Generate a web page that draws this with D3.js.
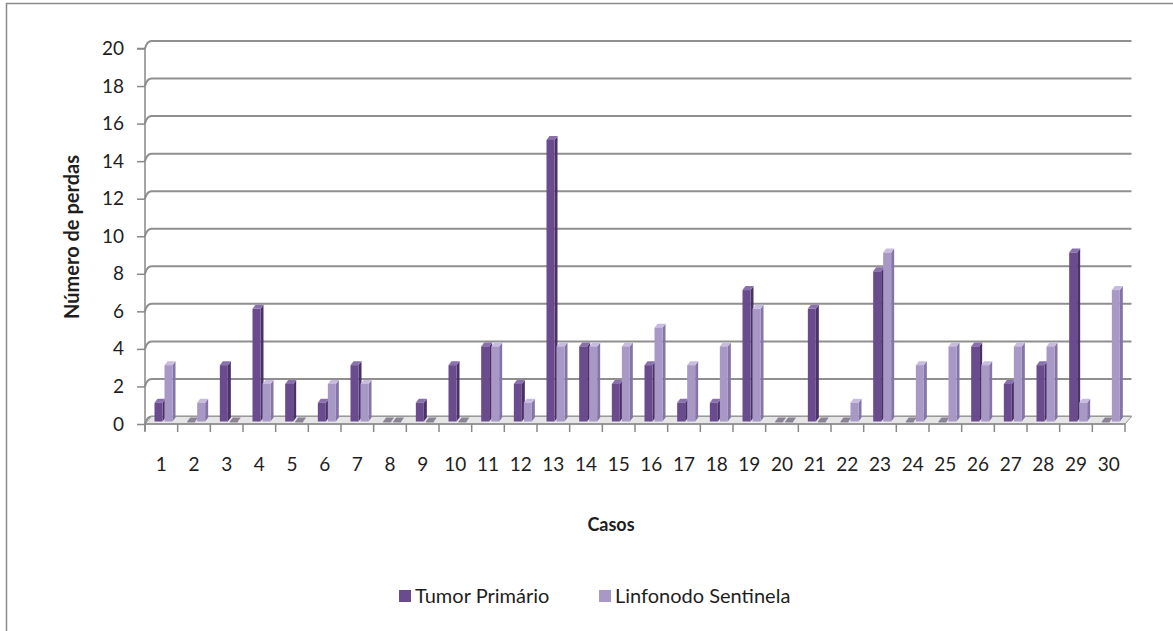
<!DOCTYPE html>
<html>
<head>
<meta charset="utf-8">
<script src="https://cdn.jsdelivr.net/npm/d3@7"></script>
<style>
  body { margin: 0; background: #fff; }
  svg text { font-family: Lato, "Open Sans", "DejaVu Sans", sans-serif; fill: #1e1e1e; }
</style>
</head>
<body>
<div id="chart"></div>
<script>
var svgWidth = 1173;
var svgHeight = 631;

// data
var casos = d3.range(1, 31).map(String);
var tumorPrimario = [1, 0, 3, 6, 2, 1, 3, 0, 1, 3, 4, 2, 15, 4, 2, 3, 1, 1, 7, 0, 6, 0, 8, 0, 0, 4, 2, 3, 9, 0];
var linfonodo = [3, 1, 0, 2, 0, 2, 2, 0, 0, 0, 4, 1, 4, 4, 4, 5, 3, 4, 6, 0, 0, 1, 9, 3, 4, 3, 4, 4, 1, 7];
var seriesNames = ["Tumor Primário", "Linfonodo Sentinela"];
var yTicks = [0, 2, 4, 6, 8, 10, 12, 14, 16, 18, 20];

// 3D look: back wall offset and colours per series
var depthX = 6.5, depthY = -7.5;
var colors = [
  { front: "#6a4c8e", side: "#4a3269", top: "#8a70ad" },
  { front: "#a898c6", side: "#8574a6", top: "#c8bde0" }
];

var svg = d3.select("#chart")
  .append("svg")
  .attr("width", svgWidth)
  .attr("height", svgHeight);

// chart border (cropped on right/bottom in the original)
svg.append("rect")
  .attr("x", 6.5).attr("y", 3.5)
  .attr("width", 1300).attr("height", 800)
  .attr("fill", "none")
  .attr("stroke", "#8a8a8a")
  .attr("stroke-width", 1.5);

// scales
var x0 = d3.scaleBand().domain(casos).range([145, 1125]).padding(0);
var x1 = d3.scaleBand().domain([0, 1]).range([8, 28]).padding(0);
var y = d3.scaleLinear().domain([0, 20]).range([424, 48.5]);

// back wall gridlines
var grid = svg.append("g");
yTicks.forEach(function(t) {
  var yy = y(t);
  grid.append("path")
    .attr("d", `M145,${yy} Q147,${yy + depthY} ${145 + depthX},${yy + depthY} L${1125 + depthX},${yy + depthY}`)
    .attr("fill", "none")
    .attr("stroke", "#8f8f8f")
    .attr("stroke-width", 2);
});

// floor
svg.append("path")
  .attr("d", `M145,424 L${145 + depthX},${424 + depthY} L${1125 + depthX},${424 + depthY} L1125,424 Z`)
  .attr("fill", "#e6e6e6")
  .attr("stroke", "#999")
  .attr("stroke-width", 1);

// bars
var faceW = 8, barDx = 3, barDy = -4, offX = 1.5, offY = -2.5;
var bars = svg.append("g");
[tumorPrimario, linfonodo].forEach(function(vals, s) {
  var c = colors[s];
  var g = bars.append("g");
  var data = casos.map(function(k, i) { return { k: k, v: vals[i] }; });
  var xl = d => x0(d.k) + x1(s) + offX;
  var yb = y(0) + offY;
  var yt = d => y(d.v) + offY;

  // side
  g.selectAll(".side").data(data).enter().append("path")
    .attr("d", d => `M${xl(d) + faceW},${yb} L${xl(d) + faceW + barDx},${yb + barDy} L${xl(d) + faceW + barDx},${yt(d) + barDy} L${xl(d) + faceW},${yt(d)} Z`)
    .attr("fill", c.side);
  // top
  g.selectAll(".top").data(data).enter().append("path")
    .attr("d", d => `M${xl(d)},${yt(d)} L${xl(d) + barDx},${yt(d) + barDy} L${xl(d) + faceW + barDx},${yt(d) + barDy} L${xl(d) + faceW},${yt(d)} Z`)
    .attr("fill", d => d.v === 0 ? "#8a8494" : c.top);
  // front
  g.selectAll(".front").data(data).enter().append("rect")
    .attr("x", xl)
    .attr("y", yt)
    .attr("width", faceW)
    .attr("height", d => Math.max(0.8, yb - yt(d)))
    .attr("fill", d => d.v === 0 ? "#5a5266" : c.front);
});

// y axis
var yAxis = d3.axisLeft(y).tickValues(yTicks).tickSize(8).tickPadding(13);
var yg = svg.append("g").attr("transform", "translate(145,0)").call(yAxis);
yg.select(".domain").attr("stroke", "#888").attr("stroke-width", 1.5)
  .attr("d", "M-8,48.5 H0 V431");
yg.selectAll(".tick line").attr("stroke", "#888").attr("stroke-width", 1.5);
yg.selectAll(".tick text").attr("font-size", "19px").attr("fill", "#1e1e1e")
  .style("font-family", "Lato, sans-serif");

// x axis: front edge, ticks at category boundaries
svg.append("line")
  .attr("x1", 145).attr("x2", 1125).attr("y1", 424).attr("y2", 424)
  .attr("stroke", "#888").attr("stroke-width", 1.5);
svg.append("g").selectAll("line")
  .data(casos.concat(["end"]))
  .enter().append("line")
  .attr("x1", d => d === "end" ? 1125 : x0(d))
  .attr("x2", d => d === "end" ? 1125 : x0(d))
  .attr("y1", 424).attr("y2", 432)
  .attr("stroke", "#888").attr("stroke-width", 1.5);

var xAxis = d3.axisBottom(x0).tickSize(0).tickPadding(34);
var xg = svg.append("g").attr("transform", "translate(0,424)").call(xAxis);
xg.select(".domain").remove();
xg.selectAll(".tick text").attr("font-size", "19px").attr("fill", "#1e1e1e")
  .style("font-family", "Lato, sans-serif");

// axis titles
svg.append("text")
  .attr("transform", "translate(79,237) rotate(-90)")
  .attr("text-anchor", "middle")
  .attr("font-size", "20px")
  .style("font-weight", "bold")
  .text("Número de perdas");

svg.append("text")
  .attr("x", 611).attr("y", 531)
  .attr("text-anchor", "middle")
  .attr("font-size", "18px")
  .style("font-weight", "bold")
  .text("Casos");

// legend
var legendX = [399, 599];
var legend = svg.append("g");
seriesNames.forEach(function(name, i) {
  legend.append("rect")
    .attr("x", legendX[i]).attr("y", 590)
    .attr("width", 12).attr("height", 12)
    .attr("fill", colors[i].front);
  legend.append("text")
    .attr("x", legendX[i] + 16).attr("y", 603)
    .attr("font-size", "20px")
    .text(name);
});
</script>
</body>
</html>
